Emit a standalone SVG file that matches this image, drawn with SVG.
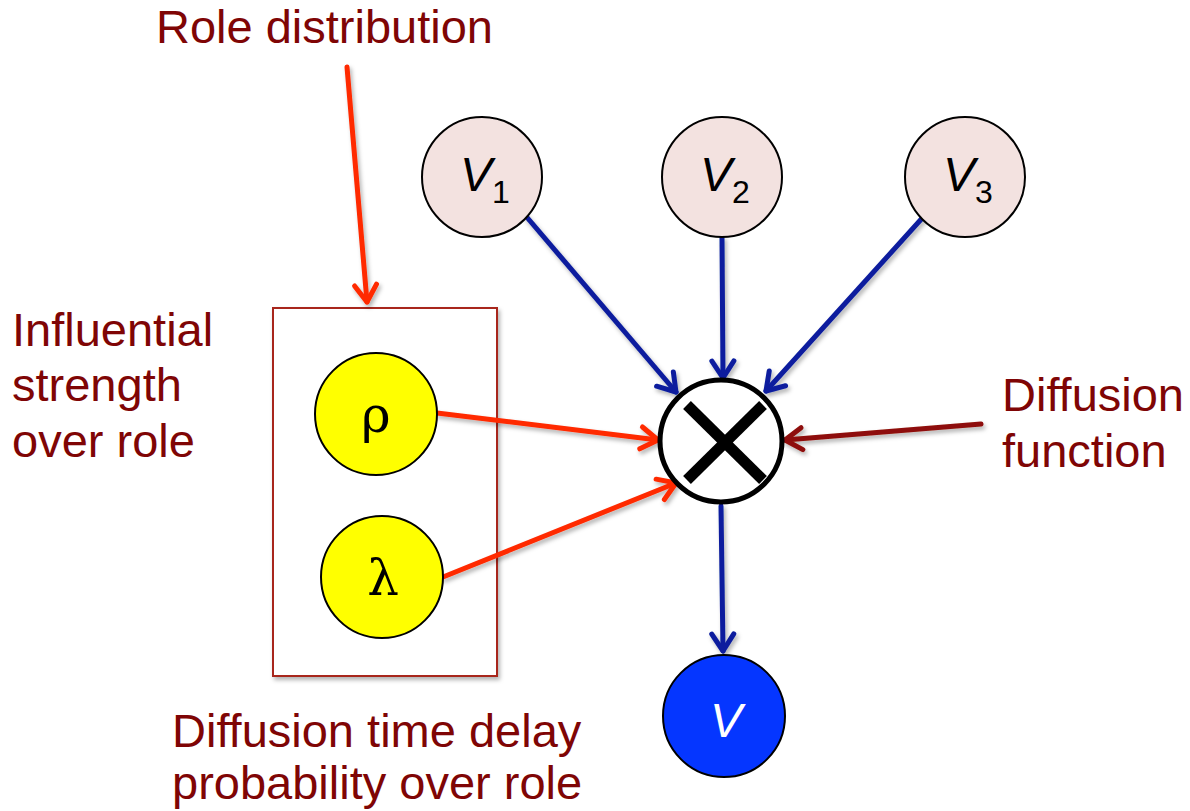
<svg xmlns="http://www.w3.org/2000/svg" width="1190" height="811" viewBox="0 0 1190 811">
  <style>
    .lbl { font-family: "Liberation Sans", Arial, sans-serif; font-size: 47px; fill: #7f0505; }
    .var { font-family: "Liberation Sans", Arial, sans-serif; font-size: 48px; font-style: italic; fill: #000; }
    .sub { font-size: 32px; font-style: normal; }
    .greek { font-family: "DejaVu Serif", "Liberation Serif", "Times New Roman", serif; font-size: 50px; fill: #000; }
    .node { stroke: #000; stroke-width: 2; }
    .blue { stroke: #0a1f9e; stroke-width: 5; fill: none; stroke-linecap: round; }
    .red { stroke: #ff2a00; stroke-width: 5; fill: none; stroke-linecap: round; }
    .dred { stroke: #8e0f08; stroke-width: 5; fill: none; stroke-linecap: round; }
  </style>
  <defs>
    <filter id="shadow" x="-20%" y="-20%" width="140%" height="140%">
      <feDropShadow dx="2" dy="3" stdDeviation="2" flood-color="#000" flood-opacity="0.3"/>
    </filter>
    <marker id="ah-blue" markerUnits="userSpaceOnUse" viewBox="-24 -16 30 32" markerWidth="30" markerHeight="32" refX="0" refY="0" orient="auto">
      <path d="M-17,-11 L0,0 L-17,11" fill="none" stroke="#0a1f9e" stroke-width="5" stroke-linecap="round" stroke-linejoin="round"/>
    </marker>
    <marker id="ah-red" markerUnits="userSpaceOnUse" viewBox="-24 -16 30 32" markerWidth="30" markerHeight="32" refX="0" refY="0" orient="auto">
      <path d="M-17,-11 L0,0 L-17,11" fill="none" stroke="#ff2a00" stroke-width="5" stroke-linecap="round" stroke-linejoin="round"/>
    </marker>
    <marker id="ah-dred" markerUnits="userSpaceOnUse" viewBox="-24 -16 30 32" markerWidth="30" markerHeight="32" refX="0" refY="0" orient="auto">
      <path d="M-17,-11 L0,0 L-17,11" fill="none" stroke="#8e0f08" stroke-width="5" stroke-linecap="round" stroke-linejoin="round"/>
    </marker>
  </defs>

  <rect width="1190" height="811" fill="#fff"/>

  <!-- plate holding the role parameters -->
  <g id="role-plate">
    <rect x="273" y="308" width="224" height="368" fill="#fff" stroke="#a8261b" stroke-width="2" filter="url(#shadow)"/>
  </g>

  <!-- connectors -->
  <g id="connectors" filter="url(#shadow)">
    <line class="red" x1="347" y1="67" x2="367" y2="302" marker-end="url(#ah-red)"/>
    <line class="blue" x1="525" y1="215" x2="676" y2="392" marker-end="url(#ah-blue)"/>
    <line class="blue" x1="722" y1="238" x2="723" y2="378" marker-end="url(#ah-blue)"/>
    <line class="blue" x1="925" y1="215" x2="766" y2="391" marker-end="url(#ah-blue)"/>
    <line class="red" x1="437" y1="413" x2="658" y2="440" marker-end="url(#ah-red)"/>
    <line class="red" x1="443" y1="577" x2="676" y2="483" marker-end="url(#ah-red)"/>
    <line class="dred" x1="981" y1="424" x2="785" y2="440" marker-end="url(#ah-dred)"/>
    <line class="blue" x1="721" y1="506" x2="723" y2="651" marker-end="url(#ah-blue)"/>
  </g>

  <!-- parent variables -->
  <g id="v1">
    <circle class="node" cx="482" cy="177" r="60" fill="#f3e2e0"/>
    <text class="var" x="460" y="191">V<tspan class="sub" dy="12">1</tspan></text>
  </g>
  <g id="v2">
    <circle class="node" cx="722" cy="177" r="60" fill="#f3e2e0"/>
    <text class="var" x="700" y="191">V<tspan class="sub" dy="12">2</tspan></text>
  </g>
  <g id="v3">
    <circle class="node" cx="965" cy="177" r="60" fill="#f3e2e0"/>
    <text class="var" x="943" y="191">V<tspan class="sub" dy="12">3</tspan></text>
  </g>

  <!-- role parameters -->
  <g id="rho">
    <circle class="node" cx="376" cy="414" r="61" fill="#ffff00"/>
    <text class="greek" x="376" y="432" text-anchor="middle">ρ</text>
  </g>
  <g id="lambda">
    <circle class="node" cx="382" cy="577" r="61" fill="#ffff00"/>
    <text class="greek" x="383" y="595" text-anchor="middle">λ</text>
  </g>

  <!-- diffusion function -->
  <g id="diffusion">
    <circle cx="721" cy="441" r="61" fill="#fff" stroke="#000" stroke-width="5"/>
    <line x1="687" y1="405" x2="763" y2="480" stroke="#000" stroke-width="11"/>
    <line x1="763" y1="405" x2="687" y2="480" stroke="#000" stroke-width="11"/>
  </g>

  <!-- child variable -->
  <g id="v">
    <circle class="node" cx="724" cy="716" r="61" fill="#0536ff"/>
    <text class="var" x="710" y="737" style="fill:#fff">V</text>
  </g>

  <!-- labels -->
  <g id="labels">
    <text class="lbl" x="156" y="43">Role distribution</text>
    <text class="lbl" x="12" y="346">Influential</text>
    <text class="lbl" x="12" y="401">strength</text>
    <text class="lbl" x="12" y="457">over role</text>
    <text class="lbl" x="1002" y="411">Diffusion</text>
    <text class="lbl" x="1002" y="467">function</text>
    <text class="lbl" x="172" y="747">Diffusion time delay</text>
    <text class="lbl" x="172" y="799">probability over role</text>
  </g>
</svg>
